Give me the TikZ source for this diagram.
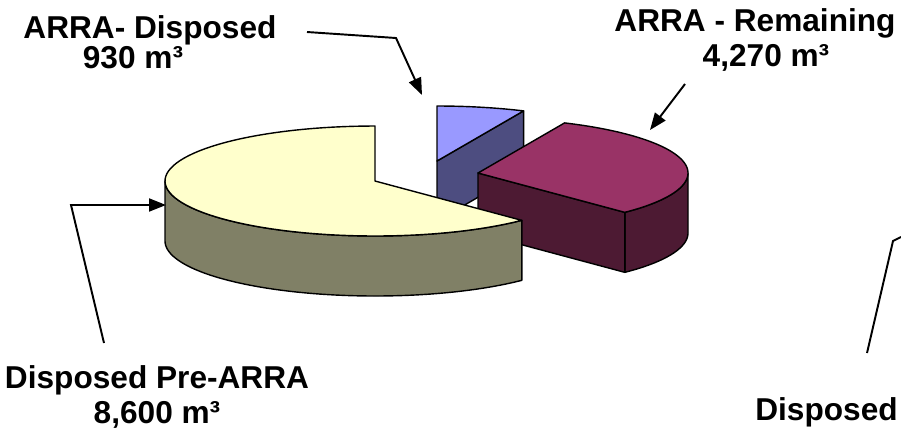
\documentclass[tikz,border=0pt]{standalone}
\usepackage{fontspec}
\setmainfont{Liberation Sans}
\usetikzlibrary{arrows.meta,positioning}
\definecolor{cremetop}{RGB}{255,255,204}
\definecolor{cremeside}{RGB}{128,128,102}
\definecolor{lilactop}{RGB}{153,153,255}
\definecolor{lilacside}{RGB}{77,77,128}
\definecolor{plumtop}{RGB}{153,51,102}
\definecolor{plumside}{RGB}{77,26,51}

\begin{document}
\begin{tikzpicture}[x=0.02cm, y=-0.02cm,
    face/.style={draw=black, line width=0.8pt, line join=round},
    pielabel/.style={font=\bfseries\fontsize{18}{20}\selectfont, align=center, inner sep=0pt, anchor=north},
    pointer/.style={line width=1.1pt, -{Triangle[length=0.34cm,width=0.26cm]}}]
    \useasboundingbox (0,0) rectangle (901,434);

    % ARRA disposed slice (back, pulled out)
    \filldraw[face, fill=lilacside] (437,161) -- ({437+210*cos(65.65)},{161-55*sin(65.65)}) -- ++(0,60) -- (437,221) -- cycle;
    \filldraw[face, fill=lilactop] (437,161) -- plot[domain=65.65:90, samples=20] ({437+210*cos(\x)},{161-55*sin(\x)}) -- cycle;

    % ARRA remaining slice
    \filldraw[face, fill=plumside] plot[domain=-45.65:0, samples=30] ({478+210*cos(\x)},{173-55*sin(\x)})
        -- plot[domain=0:-45.65, samples=30] ({478+210*cos(\x)},{233-55*sin(\x)}) -- cycle;
    \filldraw[face, fill=plumside] (478,173) -- ({478+210*cos(-45.65)},{173-55*sin(-45.65)}) -- ++(0,60) -- (478,233) -- cycle;
    \filldraw[face, fill=plumtop] (478,173) -- plot[domain=-45.65:65.65, samples=60] ({478+210*cos(\x)},{173-55*sin(\x)}) -- cycle;

    % disposed pre-ARRA slice
    \filldraw[face, fill=cremeside] plot[domain=180:314.35, samples=60] ({375+210*cos(\x)},{181-55*sin(\x)})
        -- plot[domain=314.35:180, samples=60] ({375+210*cos(\x)},{241-55*sin(\x)}) -- cycle;
    \filldraw[face, fill=cremetop] (375,181) -- plot[domain=90:314.35, samples=80] ({375+210*cos(\x)},{181-55*sin(\x)}) -- cycle;

    % labels
    \node[pielabel] (lbldisp) at (150,15) {ARRA- Disposed\\[-3pt]930 m³\rule{0.68cm}{0pt}};
    \node[pielabel] (lblremain) at (755,8) {ARRA - Remaining\\\rule{0.44cm}{0pt}4,270 m³};
    \node[pielabel] (lblpre) at (157,365) {Disposed Pre-ARRA\\8,600 m³};
    \node[pielabel, anchor=north west] (lblrest) at (755,397) {Disposed};

    % pointers
    \coordinate (dispstart) at (307,32);
    \coordinate (dispbend) at (396,38);
    \coordinate (disptip) at (422,95);
    \coordinate (remstart) at (685,84);
    \coordinate (remtip) at (650,130);
    \coordinate (prestart) at (104,343);
    \coordinate (prebend) at (71,205);
    \coordinate (pretip) at (166,205);
    \coordinate (reststart) at (867,353);
    \coordinate (restbend) at (893,241);
    \coordinate (restend) at (901,237);

    \draw[pointer] (dispstart) -- (dispbend) -- (disptip);
    \draw[pointer] (remstart) -- (remtip);
    \draw[pointer] (prestart) -- (prebend) -- (pretip);
    \draw[line width=1.1pt] (reststart) -- (restbend) -- (restend);
\end{tikzpicture}
\end{document}
